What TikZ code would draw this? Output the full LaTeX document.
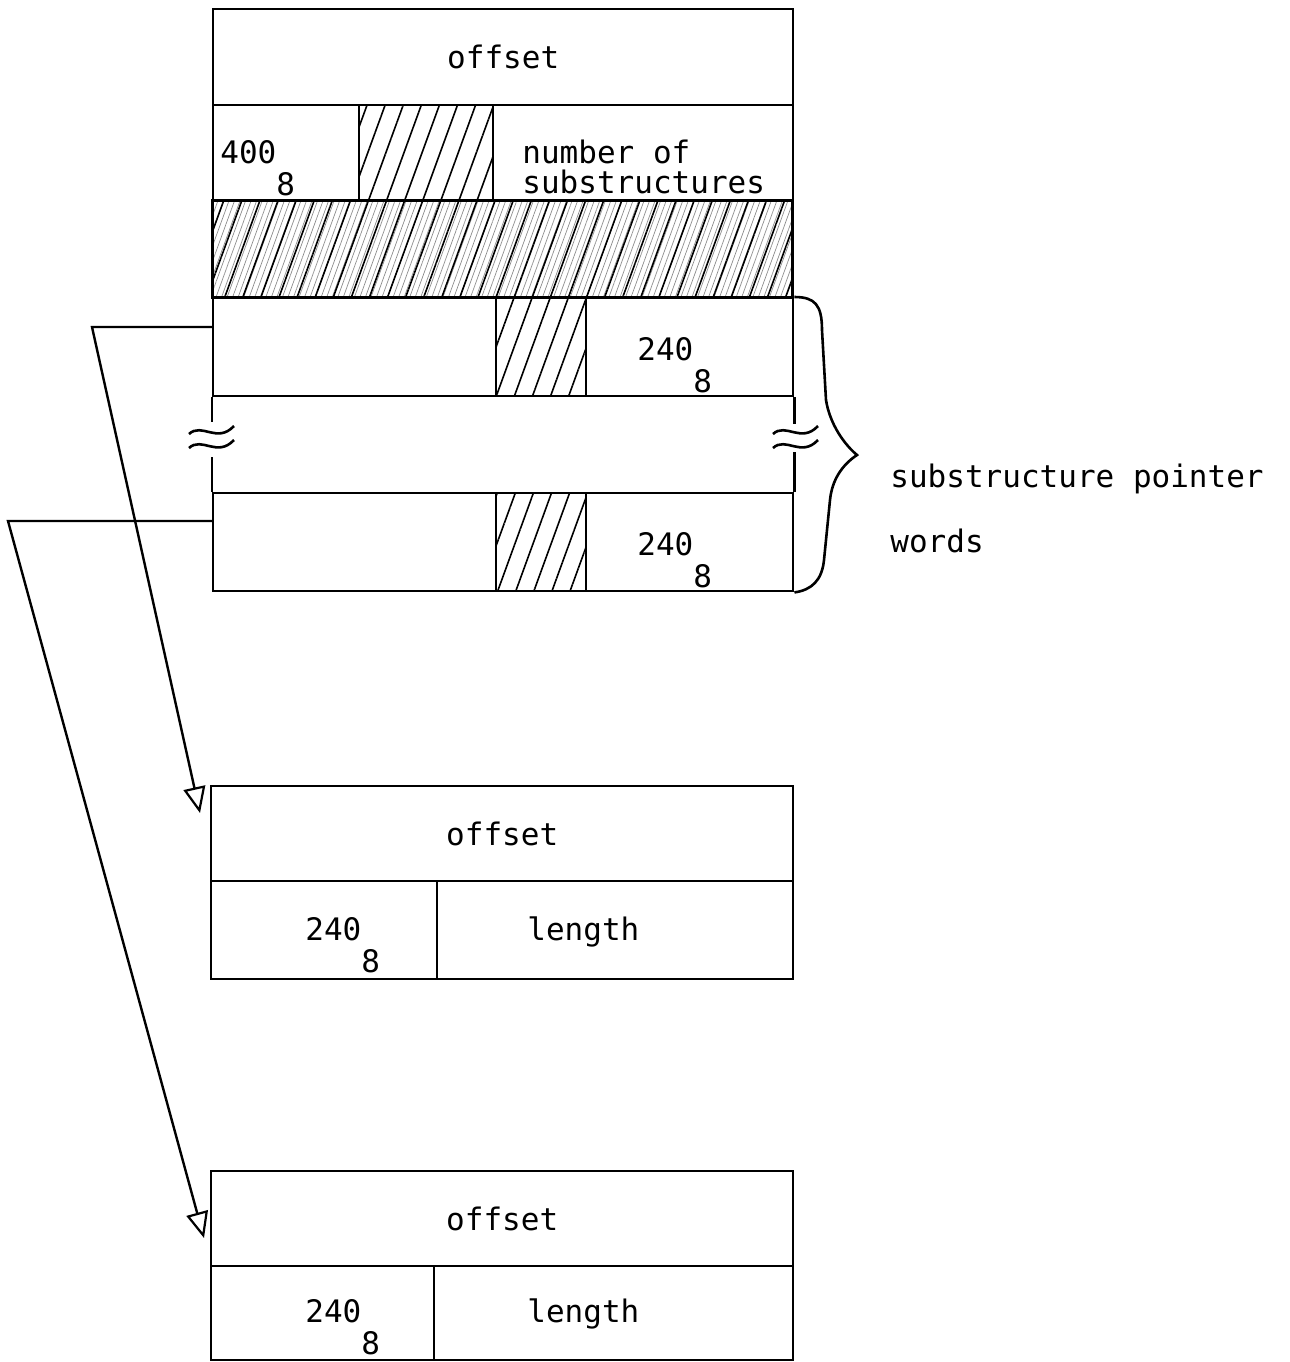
\documentclass[tikz,border=0pt]{standalone}
\usepackage{fontspec}
\setmonofont{DejaVu Sans Mono}
\usetikzlibrary{arrows.meta,patterns.meta}

\tikzset{
  cell/.style={draw, rectangle, inner sep=0pt, anchor=north west, line width=1.2pt},
  hatch/.style={pattern={Lines[angle=70,distance=8.5pt,line width=.8pt]}},
  finehatch/.style={pattern={Lines[angle=70,distance=2.6pt,line width=.35pt]}, pattern color=black!45},
  txt/.style={font=\ttfamily\fontsize{15.5}{15}\selectfont, inner sep=0pt},
  ptr/.style={line width=1.2pt, -{Triangle[open,length=13pt,width=11pt,line width=1.1pt]}},
}
\newcommand\oct[1]{#1\rlap{\raisebox{-16pt}{8}}}

\begin{document}
\begin{tikzpicture}[x=0.5pt,y=-0.5pt]
\useasboundingbox (0,0) rectangle (1290,1362);

% structure descriptor
\node[cell, txt, minimum width=290pt, minimum height=48pt] (off1) at (212,8) {offset};
\node[cell, minimum width=73pt, minimum height=48pt] (tag) at (212,104) {};
\node[cell, hatch, minimum width=67pt, minimum height=48pt] (pad) at (358,104) {};
\node[cell, minimum width=150pt, minimum height=48pt] (nsub) at (492,104) {};
\node[txt, anchor=base west] at (220,163) {\oct{400}};
\node[txt, anchor=base west] (nsubA) at (522,163) {number of};
\node[txt, anchor=base west] (nsubB) at (522,193) {substructures};
\node[cell, finehatch, minimum width=290pt, minimum height=48.5pt] (unused) at (212,200) {};
\path[hatch] (unused.north west) rectangle (unused.south east);

% substructure pointer words
\foreach \y/\n in {297/a, 492/b}{
  \node[cell, minimum width=141.5pt, minimum height=49pt] (left\n) at (212,\y) {};
  \node[cell, hatch, minimum width=45pt, minimum height=49pt] (mid\n) at (495,\y) {};
  \node[cell, minimum width=103.5pt, minimum height=49pt] (val\n) at (585,\y) {};
  \node[txt, anchor=base west] at (637,\y+63) {\oct{240}};
}
\draw[line width=1.2pt] (lefta.south west) -- ++(0,25);
\draw[line width=1.2pt] (leftb.north west) -- ++(0,-35);
\draw[line width=1.2pt] (vala.south east) -- ++(0,27);
\draw[line width=1.2pt] (valb.north east) -- ++(0,-40);
\foreach \cx in {212,796}
  \foreach \dy in {0,14}
    \draw[line width=1.3pt] (\cx-23,434+\dy) .. controls (\cx-10,422+\dy) and (\cx+5,444+\dy) .. (\cx+22,426+\dy);

% brace
\draw[line width=1.3pt] (vala.north east) .. controls (815,297) and (822,305) .. (822,330)
  -- (826,400) .. controls (830,425) and (845,445) .. (857,455)
  .. controls (842,465) and (832,480) .. (830,500)
  -- (824,560) .. controls (822,580) and (812,590) .. (valb.south east);
\node[txt, anchor=base west] (lbl1) at (890,487) {substructure pointer};
\node[txt, anchor=base west] (lbl2) at (890,552) {words};

% substructures
\node[cell, txt, minimum width=291pt, minimum height=47.5pt] (off2) at (210,785) {offset};
\node[cell, minimum width=113pt, minimum height=49pt] (tag2) at (210,880) {};
\node[cell, minimum width=178pt, minimum height=49pt] (len2) at (436,880) {};
\node[txt, anchor=base west] at (305,940) {\oct{240}};
\node[txt, anchor=base west] at (527,940) {length};

\node[cell, txt, minimum width=291pt, minimum height=47.5pt] (off3) at (210,1170) {offset};
\node[cell, minimum width=111.5pt, minimum height=47pt] (tag3) at (210,1265) {};
\node[cell, minimum width=179.5pt, minimum height=47pt] (len3) at (433,1265) {};
\node[txt, anchor=base west] at (305,1322) {\oct{240}};
\node[txt, anchor=base west] at (527,1322) {length};

% pointers
\coordinate (bend1) at (92,327);
\coordinate (bend2) at (8,521);
\coordinate (tip1) at ([shift={(-10,28)}]off2.north west);
\coordinate (tip2) at ([shift={(-6,68)}]off3.north west);
\draw[ptr] (lefta.west |- bend1) -- (bend1) -- (tip1);
\draw[ptr] (leftb.west |- bend2) -- (bend2) -- (tip2);
\end{tikzpicture}
\end{document}
